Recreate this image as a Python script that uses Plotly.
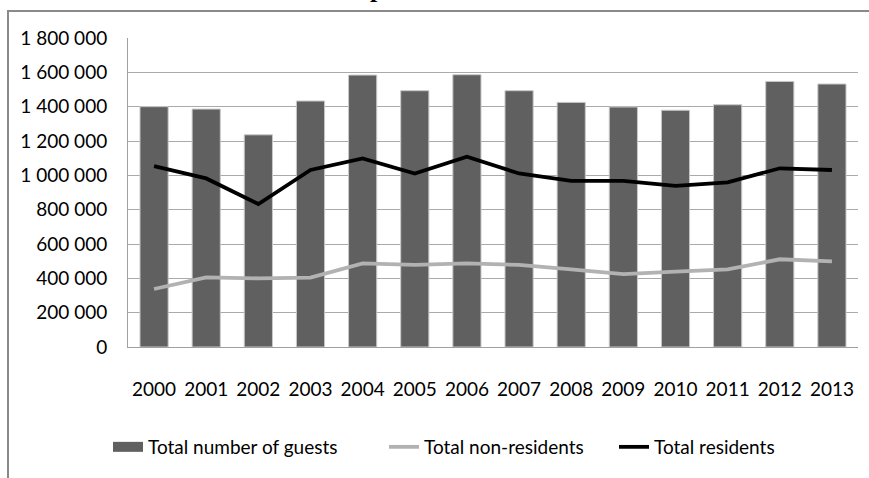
import plotly.graph_objects as go

years = ["2000", "2001", "2002", "2003", "2004", "2005", "2006",
         "2007", "2008", "2009", "2010", "2011", "2012", "2013"]
total_guests = [1400000, 1386000, 1236000, 1433000, 1584000, 1493000, 1586000,
                1493000, 1425000, 1398000, 1379000, 1411000, 1547000, 1532000]
non_residents = [338000, 406000, 400000, 404000, 487000, 478000, 487000,
                 478000, 452000, 425000, 439000, 452000, 511000, 499000]
residents = [1054000, 982000, 833000, 1031000, 1099000, 1011000, 1108000,
             1011000, 968000, 968000, 939000, 959000, 1041000, 1031000]
y_ticks = [0, 200000, 400000, 600000, 800000, 1000000, 1200000, 1400000, 1600000, 1800000]

FONT = "Lato, Liberation Sans, sans-serif"
FS = 19
BAR_C = "#606060"
GREY_C = "#b2b2b2"
BLACK_C = "#000000"

W, H = 869, 478
L, R, T, B = 128, 11, 38, 131
PW, PH = W - L - R, H - T - B


def px_x(p):
    return (p - L) / PW


def px_y(p):
    return (H - B - p) / PH


fig = go.Figure()
fig.add_trace(go.Bar(x=years, y=total_guests, name="Total number of guests",
                     marker=dict(color=BAR_C, line=dict(color="#c8c8c8", width=1)),
                     showlegend=False))
# legend entry for bars (wide rectangle symbol)
fig.add_trace(go.Scatter(x=[None], y=[None], mode="lines", name="Total number of guests",
                         line=dict(color=BAR_C, width=12), legend="legend"))
fig.add_trace(go.Scatter(x=years, y=non_residents, mode="lines", name="Total non-residents",
                         line=dict(color=GREY_C, width=3.8), legend="legend2"))
fig.add_trace(go.Scatter(x=years, y=residents, mode="lines", name="Total residents",
                         line=dict(color=BLACK_C, width=3.8), legend="legend3"))

leg_common = dict(orientation="h", yanchor="middle", xanchor="left",
                  font=dict(family=FONT, size=FS, color="#000000"),
                  bgcolor="rgba(0,0,0,0)", borderwidth=0)

fig.update_layout(
    width=W, height=H,
    margin=dict(l=L, r=R, t=T, b=B, pad=0, autoexpand=False),
    paper_bgcolor="white", plot_bgcolor="white",
    separators=". ",
    bargap=0.46,
    font=dict(family=FONT, size=FS, color="#000000"),
    xaxis=dict(type="category", showgrid=False, showline=True, linecolor="#a0a0a0",
               linewidth=1, ticks="", tickfont=dict(family=FONT, size=FS),
               tickangle=0, automargin=False,
               ticklabelstandoff=25, fixedrange=True),
    yaxis=dict(range=[0, 1800000], tickvals=y_ticks, tickformat=",d",
               showgrid=True, gridcolor="#aaaaaa", gridwidth=1,
               showline=True, linecolor="#a0a0a0", linewidth=1, zeroline=False,
               ticks="", tickfont=dict(family=FONT, size=FS), automargin=False,
               ticklabelstandoff=16, fixedrange=True),
    legend=dict(x=px_x(108), y=px_y(447), **leg_common),
    legend2=dict(x=px_x(384), y=px_y(447), **leg_common),
    legend3=dict(x=px_x(614), y=px_y(447), **leg_common),
    shapes=[dict(type="rect", xref="paper", yref="paper",
                 x0=px_x(8), x1=px_x(880), y0=px_y(490), y1=px_y(11),
                 line=dict(color="#8a8a8a", width=2), fillcolor="rgba(0,0,0,0)",
                 layer="below")],
    annotations=[dict(text="<b>p</b>", xref="paper", yref="paper",
                      x=px_x(368), y=px_y(5), xanchor="left", yanchor="bottom",
                      showarrow=False,
                      font=dict(family="Liberation Serif, serif", size=26, color="#000000"))],
)

fig.write_html("out.html")
